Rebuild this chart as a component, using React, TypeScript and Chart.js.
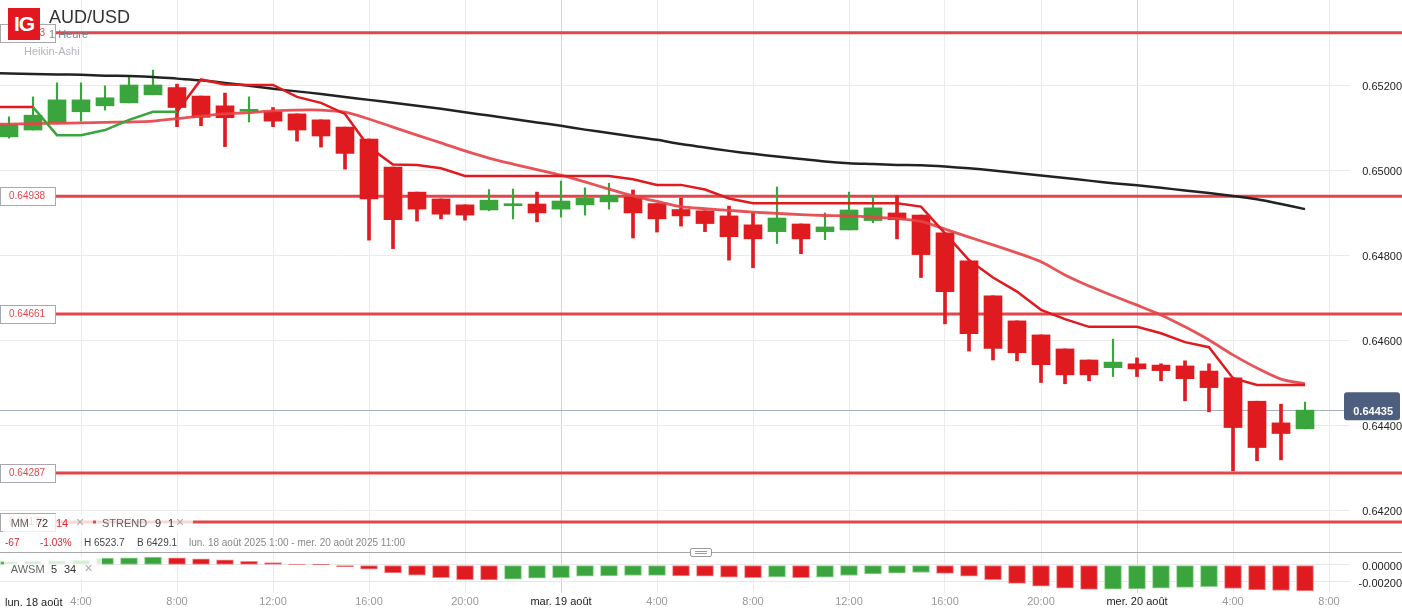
import React, { useEffect, useRef } from "react";
import { Chart, registerables } from "chart.js";

Chart.register(...registerables);

const FONT = "'Liberation Sans', Arial, Helvetica, sans-serif";
Chart.defaults.font.family = FONT;

// hours since lun. 18 août 00:00 (one Heikin-Ashi candle per hour, 1:00 ... 7:00 on 20 août)
const HOURS = [
  1, 2, 3, 4, 5, 6, 7, 8, 9, 10, 11, 12, 13, 14, 15, 16, 17, 18, 19, 20, 21, 22, 23, 24, 25,
  26, 27, 28, 29, 30, 31, 32, 33, 34, 35, 36, 37, 38, 39, 40, 41, 42, 43, 44, 45, 46, 47, 48,
  49, 50, 51, 52, 53, 54, 55,
];
// indicator lines also carry the 0:00 value (just left of the visible window)
const LINE_HOURS = [
  0, 1, 2, 3, 4, 5, 6, 7, 8, 9, 10, 11, 12, 13, 14, 15, 16, 17, 18, 19, 20, 21, 22, 23, 24, 25,
  26, 27, 28, 29, 30, 31, 32, 33, 34, 35, 36, 37, 38, 39, 40, 41, 42, 43, 44, 45, 46, 47, 48,
  49, 50, 51, 52, 53, 54, 55,
];

const OPEN = [
  0.65078, 0.65094, 0.65112, 0.65137, 0.65151, 0.65158, 0.65177, 0.65194, 0.65174, 0.65151,
  0.65138, 0.65137, 0.65132, 0.65118, 0.65101, 0.65073, 0.65007, 0.64948, 0.64932, 0.64918,
  0.64906, 0.64916, 0.6492, 0.64908, 0.64918, 0.64925, 0.64936, 0.64921, 0.64907, 0.64904,
  0.64892, 0.64871, 0.64855, 0.64873, 0.64855, 0.64859, 0.64881, 0.64899, 0.64894, 0.64852,
  0.64786, 0.64704, 0.64645, 0.64612, 0.64579, 0.64553, 0.64535, 0.64544, 0.64541, 0.64539,
  0.64527, 0.64511, 0.64456, 0.64405, 0.64391,
];
const HIGH = [
  0.65125, 0.65172, 0.65205, 0.65205, 0.65198, 0.6522, 0.65235, 0.65202, 0.65174, 0.65181,
  0.65172, 0.65147, 0.65132, 0.65118, 0.65101, 0.65073, 0.65007, 0.64948, 0.64932, 0.64918,
  0.64954, 0.64955, 0.64948, 0.64974, 0.64958, 0.64969, 0.64953, 0.64921, 0.64934, 0.64904,
  0.64915, 0.64899, 0.6496, 0.64873, 0.64899, 0.64948, 0.64939, 0.64939, 0.64894, 0.64852,
  0.64786, 0.64704, 0.64645, 0.64612, 0.64579, 0.64553, 0.64602, 0.64558, 0.64544, 0.64551,
  0.64544, 0.64511, 0.64456, 0.64449, 0.64454,
];
const LOW = [
  0.65075, 0.65094, 0.65112, 0.65115, 0.65141, 0.65158, 0.65177, 0.65102, 0.65104, 0.65055,
  0.65113, 0.65102, 0.65068, 0.65054, 0.65002, 0.64835, 0.64815, 0.6488, 0.64885, 0.64882,
  0.64904, 0.64885, 0.64878, 0.64889, 0.64894, 0.64908, 0.6484, 0.64854, 0.64868, 0.64855,
  0.64788, 0.6477, 0.64827, 0.64803, 0.64836, 0.64859, 0.64876, 0.64838, 0.64747, 0.64638,
  0.64574, 0.64553, 0.64551, 0.645, 0.64497, 0.64504, 0.64514, 0.64514, 0.64504, 0.64457,
  0.64431, 0.64292, 0.64316, 0.64318, 0.64391,
];
const CLOSE = [
  0.65106, 0.65129, 0.65165, 0.65165, 0.6517, 0.652, 0.652, 0.65147, 0.65124, 0.65123,
  0.65142, 0.65115, 0.65094, 0.6508, 0.65039, 0.64932, 0.64883, 0.64908, 0.64896, 0.64894,
  0.64929, 0.6492, 0.64899, 0.64927, 0.64934, 0.6494, 0.64899, 0.64885, 0.64892, 0.64874,
  0.64843, 0.64838, 0.64887, 0.64838, 0.64866, 0.64906, 0.64911, 0.64883, 0.64801, 0.64714,
  0.64615, 0.6458, 0.6457, 0.64542, 0.64518, 0.64518, 0.64548, 0.64532, 0.64528, 0.64509,
  0.64488, 0.64394, 0.64347, 0.6438, 0.64435,
];

// MM 72 (dark) and MM 14 (red)
const MA72 = [
  0.65228,
  0.65227, 0.65226, 0.65225, 0.65224, 0.65222, 0.65221, 0.65219, 0.65215, 0.65211, 0.65205,
  0.65198, 0.65191, 0.65185, 0.65179, 0.65172, 0.65165, 0.65158, 0.65151, 0.65144, 0.65136,
  0.65128, 0.6512, 0.65112, 0.65104, 0.65095, 0.65087, 0.65079, 0.65071, 0.65061, 0.65053,
  0.65045, 0.65038, 0.65032, 0.65026, 0.6502, 0.65016, 0.65014, 0.65012, 0.65011, 0.65008,
  0.65004, 0.64999, 0.64993, 0.64987, 0.64981, 0.64975, 0.64969, 0.64964, 0.64958, 0.64952,
  0.64946, 0.64939, 0.64931, 0.6492, 0.64908,
];
const MA14 = [
  0.65107,
  0.65108, 0.65109, 0.6511, 0.65111, 0.65112, 0.65113, 0.65115, 0.65121, 0.65127, 0.65132,
  0.65135, 0.65139, 0.65141, 0.65141, 0.65136, 0.6512, 0.65101, 0.65082, 0.65064, 0.65045,
  0.65028, 0.65014, 0.65001, 0.64988, 0.64972, 0.64955, 0.64939, 0.64926, 0.64914, 0.64909,
  0.64905, 0.64901, 0.64898, 0.64895, 0.64893, 0.64892, 0.64889, 0.64886, 0.64879, 0.64861,
  0.64842, 0.64824, 0.64805, 0.64784, 0.64753, 0.64727, 0.64704, 0.64682, 0.64659, 0.64631,
  0.646, 0.64565, 0.64534, 0.64508, 0.64497,
];

// STREND 9 1
const STREND = [
  0.65148,
  0.65148, 0.65148, 0.65082, 0.65082, 0.65094, 0.65118, 0.65137, 0.65137, 0.65213, 0.65201,
  0.652, 0.652, 0.65172, 0.65158, 0.65132, 0.65054, 0.65013, 0.65012, 0.65004, 0.64986,
  0.64986, 0.64986, 0.64986, 0.64986, 0.64986, 0.64986, 0.64978, 0.64965, 0.64965, 0.64954,
  0.64933, 0.64922, 0.64922, 0.64922, 0.64922, 0.64922, 0.64922, 0.64922, 0.64914, 0.64851,
  0.64788, 0.64747, 0.64714, 0.64671, 0.64649, 0.64631, 0.64631, 0.64631, 0.64616, 0.64595,
  0.64583, 0.6451, 0.64494, 0.64494, 0.64494,
];
const STREND_UP = [
  0,
  0, 0, 1, 1, 1, 1, 1, 1, 0, 0, 0, 0, 0, 0, 0, 0, 0, 0, 0, 0, 0, 0, 0, 0, 0, 0, 0, 0, 0, 0,
  0, 0, 0, 0, 0, 0, 0, 0, 0, 0, 0, 0, 0, 0, 0, 0, 0, 0, 0, 0, 0, 0, 0, 0, 0,
];

// AWSM 5 34
const AWSM = [
  0.0004, 0.00044, 0.00048, 0.00056, 0.0008, 0.00084, 0.00092,
  0.00084, 0.00072, 0.0006, 0.00044, 0.00028, 0.00012, 0.00004,
  -0.0002, -0.00048, -0.00092, -0.0012, -0.00148, -0.00174, -0.00177,
  -0.00168, -0.00156, -0.00148, -0.00132, -0.00128, -0.00124, -0.00123,
  -0.00128, -0.00132, -0.00144, -0.00148, -0.0014, -0.00148,
  -0.00144, -0.00124, -0.00104, -0.00096, -0.00088,
  -0.001, -0.00132, -0.00172, -0.00216, -0.00248, -0.00272, -0.00288,
  -0.00284, -0.0028, -0.00272, -0.00264, -0.00256,
  -0.00276, -0.00292, -0.003, -0.00304,
];
const AWSM_UP = [
  1, 1, 1, 1, 1, 1, 1, 0, 0, 0, 0, 0, 0, 0, 0, 0, 0, 0, 0, 0, 0, 1, 1, 1, 1, 1, 1, 1,
  0, 0, 0, 0, 1, 0, 1, 1, 1, 1, 1, 0, 0, 0, 0, 0, 0, 0, 1, 1, 1, 1, 1, 0, 0, 0, 0,
];

const LEVELS = [0.65323, 0.64938, 0.64661, 0.64287, 0.64172];
const LAST_PRICE = 0.64435;
const HIDDEN_PRICE = 0.64453;

const PRICE_TICKS = [0.642, 0.644, 0.646, 0.648, 0.65, 0.652];
const AWSM_TICKS = [0, -0.002];
const X_TICKS = [4, 8, 12, 16, 20, 24, 28, 32, 36, 40, 44, 48, 52, 56];
const FIRST_DAY_LABEL = "lun. 18 août";
const DAY_LABELS: Record<number, string> = {
  24: "mar. 19 août",
  48: "mer. 20 août",
};

const X_MIN = 0.625;
const X_MAX = 56.875;
const Y_MIN = 0.641012;
const Y_MAX = 0.654;
const A_MIN = -0.003294;
const A_MAX = 0.001529;

const RED = "#e01b1f";
const GREEN = "#3aa53c";
const LEVEL_RED = "#e2464b";

const xGridColor = (ctx: any) => {
  const v = ctx.tick ? ctx.tick.value : null;
  if (v !== null && v % 24 === 0) return "#d4d4d4";
  return "#ececec";
};

const noPad = (s: any) => {
  s.paddingTop = 0;
  s.paddingBottom = 0;
  s.paddingLeft = 0;
  s.paddingRight = 0;
};

const levelsPlugin = {
  id: "levels",
  beforeDatasetsDraw(chart: any) {
    const { ctx } = chart;
    const y = chart.scales.y;
    const right = chart.chartArea.right;
    ctx.save();
    const py = Math.round(y.getPixelForValue(LAST_PRICE)) + 0.5;
    ctx.strokeStyle = "#a7b0c2";
    ctx.lineWidth = 1;
    ctx.beginPath();
    ctx.moveTo(0, py);
    ctx.lineTo(right - 6, py);
    ctx.stroke();
    ctx.strokeStyle = LEVEL_RED;
    ctx.lineWidth = 3;
    LEVELS.forEach((lv) => {
      const p = y.getPixelForValue(lv);
      ctx.beginPath();
      ctx.moveTo(55, p);
      ctx.lineTo(chart.width, p);
      ctx.stroke();
    });
    ctx.restore();
  },
  afterDraw(chart: any) {
    const { ctx } = chart;
    const y = chart.scales.y;
    const right = chart.chartArea.right;
    ctx.save();
    LEVELS.forEach((lv) => {
      const p = Math.round(y.getPixelForValue(lv));
      ctx.fillStyle = "#ffffff";
      ctx.fillRect(0.5, p - 8.5, 55, 18);
      ctx.strokeStyle = "#a8a8b0";
      ctx.lineWidth = 1;
      ctx.strokeRect(0.5, p - 8.5, 55, 18);
      ctx.fillStyle = "#e0474c";
      ctx.font = `10px ${FONT}`;
      ctx.textAlign = "left";
      ctx.textBaseline = "middle";
      ctx.fillText(lv.toFixed(5), 9, p + 0.5);
    });
    // current price box
    const py = y.getPixelForValue(LAST_PRICE);
    const bx = right - 6;
    const bw = chart.width - 2 - bx;
    const top = py - 18;
    const h = 28;
    ctx.fillStyle = "#4d5e7e";
    ctx.beginPath();
    (ctx as any).roundRect(bx, top, bw, h, 3);
    ctx.fill();
    ctx.font = `bold 11px ${FONT}`;
    ctx.fillStyle = "#ffffff";
    ctx.textAlign = "right";
    ctx.textBaseline = "middle";
    ctx.save();
    ctx.beginPath();
    ctx.rect(bx, top + 6, bw, 3);
    ctx.clip();
    ctx.fillText(HIDDEN_PRICE.toFixed(5), 1393, top + 3);
    ctx.restore();
    ctx.fillText(LAST_PRICE.toFixed(5), 1393, py + 2);
    ctx.restore();
  },
};

function T(props: {
  x: number;
  y: number;
  size: number;
  color: string;
  weight?: number;
  children: React.ReactNode;
}) {
  return (
    <div
      style={{
        position: "absolute",
        left: props.x,
        top: props.y - 10,
        lineHeight: "20px",
        fontSize: props.size,
        color: props.color,
        fontWeight: props.weight || 400,
        whiteSpace: "nowrap",
        fontFamily: FONT,
      }}
    >
      {props.children}
    </div>
  );
}

export default function App() {
  const mainRef = useRef<HTMLCanvasElement>(null);
  const awsmRef = useRef<HTMLCanvasElement>(null);

  useEffect(() => {
    const isUp = (i: number) => CLOSE[i] >= OPEN[i];
    const bodies = HOURS.map((h, i) => ({ x: h, y: [OPEN[i], CLOSE[i]] }));
    const redWicks = HOURS.map((h, i) => ({ x: h, y: [LOW[i], HIGH[i]] })).filter((_, i) => !isUp(i));
    const greenWicks = HOURS.map((h, i) => ({ x: h, y: [LOW[i], HIGH[i]] })).filter((_, i) => isUp(i));

    const main = new Chart(mainRef.current as HTMLCanvasElement, {
      type: "bar",
      data: {
        datasets: [
          {
            type: "line",
            data: LINE_HOURS.map((h, i) => ({ x: h, y: MA72[i] })),
            borderColor: "#222222",
            borderWidth: 2.5,
            pointRadius: 0,
            tension: 0.3,
            order: 1,
          } as any,
          {
            type: "line",
            data: LINE_HOURS.map((h, i) => ({ x: h, y: MA14[i] })),
            borderColor: "rgba(229,68,73,0.92)",
            borderWidth: 2.8,
            pointRadius: 0,
            tension: 0.3,
            order: 2,
          } as any,
          {
            type: "line",
            data: LINE_HOURS.map((h, i) => ({ x: h, y: STREND[i] })),
            borderColor: RED,
            borderWidth: 2.5,
            pointRadius: 0,
            tension: 0,
            order: 0,
            segment: {
              borderColor: (ctx: any) => (STREND_UP[ctx.p1DataIndex] ? GREEN : RED),
            },
          } as any,
          {
            type: "bar",
            data: bodies,
            backgroundColor: (ctx: any) => (isUp(ctx.dataIndex) ? GREEN : RED),
            barThickness: 18,
            grouped: false,
            minBarLength: 2,
            borderWidth: 0,
            borderSkipped: false,
            order: 5,
          } as any,
          {
            type: "bar",
            data: redWicks,
            backgroundColor: RED,
            barThickness: 3,
            grouped: false,
            borderWidth: 0,
            borderSkipped: false,
            order: 6,
          } as any,
          {
            type: "bar",
            data: greenWicks,
            backgroundColor: GREEN,
            barThickness: 1.5,
            grouped: false,
            borderWidth: 0,
            borderSkipped: false,
            order: 6,
          } as any,
        ],
      },
      options: {
        responsive: false,
        animation: false,
        layout: { padding: 0 },
        plugins: { legend: { display: false }, tooltip: { enabled: false } },
        scales: {
          x: {
            type: "linear",
            min: X_MIN,
            max: X_MAX,
            offset: false,
            afterBuildTicks: (s: any) => {
              s.ticks = X_TICKS.map((v) => ({ value: v }));
            },
            afterFit: (s: any) => {
              s.height = 0;
              noPad(s);
            },
            ticks: { display: false },
            grid: { color: xGridColor, drawTicks: false, offset: false },
            border: { display: false },
          },
          y: {
            type: "linear",
            position: "right",
            min: Y_MIN,
            max: Y_MAX,
            afterBuildTicks: (s: any) => {
              s.ticks = PRICE_TICKS.map((v) => ({ value: v }));
            },
            afterFit: (s: any) => {
              s.width = 52;
              noPad(s);
            },
            ticks: {
              callback: (v: any) => Number(v).toFixed(5),
              color: "#222222",
              font: { size: 11 },
              padding: 3,
              crossAlign: "far",
              labelOffset: 2,
            },
            grid: { color: "#ebebeb", drawTicks: false },
            border: { display: false },
          },
        },
      } as any,
      plugins: [levelsPlugin],
    });

    const awsm = new Chart(awsmRef.current as HTMLCanvasElement, {
      type: "bar",
      data: {
        datasets: [
          {
            data: HOURS.map((h, i) => ({ x: h, y: AWSM[i] })),
            backgroundColor: (ctx: any) => (AWSM_UP[ctx.dataIndex] ? GREEN : RED),
            borderColor: (ctx: any) =>
              AWSM_UP[ctx.dataIndex] ? "rgba(150,208,150,1)" : "rgba(240,140,142,1)",
            borderWidth: 1,
            borderSkipped: false,
            barThickness: 17,
            grouped: false,
          } as any,
        ],
      },
      options: {
        responsive: false,
        animation: false,
        layout: { padding: 0 },
        plugins: { legend: { display: false }, tooltip: { enabled: false } },
        scales: {
          x: {
            type: "linear",
            min: X_MIN,
            max: X_MAX,
            offset: false,
            afterBuildTicks: (s: any) => {
              s.ticks = X_TICKS.map((v) => ({ value: v }));
            },
            afterFit: (s: any) => {
              s.height = 18;
              noPad(s);
            },
            ticks: {
              autoSkip: false,
              maxRotation: 0,
              padding: 2,
              font: { size: 11 },
              color: (ctx: any) => (DAY_LABELS[ctx.tick.value] ? "#222222" : "#999999"),
              callback: (v: any) => {
                const n = Number(v);
                return DAY_LABELS[n] || `${n % 24}:00`;
              },
            },
            grid: { color: xGridColor, drawTicks: false, offset: false },
            border: { display: false },
          },
          y: {
            type: "linear",
            position: "right",
            min: A_MIN,
            max: A_MAX,
            afterBuildTicks: (s: any) => {
              s.ticks = AWSM_TICKS.map((v) => ({ value: v }));
            },
            afterFit: (s: any) => {
              s.width = 52;
              noPad(s);
            },
            ticks: {
              callback: (v: any) => Number(v).toFixed(5),
              color: "#222222",
              font: { size: 11 },
              padding: 0,
              crossAlign: "far",
              labelOffset: 1.5,
            },
            grid: { color: "#e8e8e8", drawTicks: false },
            border: { display: false },
          },
        },
      } as any,
    });

    return () => {
      main.destroy();
      awsm.destroy();
    };
  }, []);

  const red = "#e0262b";
  return (
    <div
      style={{
        position: "fixed",
        left: 0,
        top: 0,
        width: 1402,
        height: 611,
        background: "#ffffff",
        overflow: "hidden",
        fontFamily: FONT,
      }}
    >
      <canvas
        ref={mainRef}
        width={1402}
        height={552}
        style={{ position: "absolute", left: 0, top: 0, width: 1402, height: 552 }}
      />
      <canvas
        ref={awsmRef}
        width={1402}
        height={59}
        style={{ position: "absolute", left: 0, top: 552, width: 1402, height: 59 }}
      />

      {/* header */}
      <div
        style={{
          position: "absolute",
          left: 8,
          top: 8,
          width: 32,
          height: 32,
          background: "#e2171f",
          color: "#ffffff",
          fontWeight: 700,
          fontSize: 21,
          lineHeight: "32px",
          textAlign: "center",
          letterSpacing: -1,
          fontFamily: FONT,
        }}
      >
        IG
      </div>
      <T x={49} y={17} size={18} color="#333333">AUD/USD</T>
      <T x={49} y={34} size={11} color="#7c8290">1 Heure</T>
      <T x={24} y={51} size={11} color="#b3b3bb">Heikin-Ashi</T>

      {/* indicator legend */}
      <div style={{ position: "absolute", left: 3, top: 514, width: 90, height: 18, background: "rgba(255,255,255,0.78)" }} />
      <div style={{ position: "absolute", left: 96, top: 514, width: 97, height: 18, background: "rgba(255,255,255,0.78)" }} />
      <T x={10.7} y={523} size={11} color="#666666">MM</T>
      <T x={36} y={523} size={11} color="#333333">72</T>
      <T x={56} y={523} size={11} color={red}>14</T>
      <T x={76} y={522} size={14} color="#aaaaaa">×</T>
      <T x={102} y={523} size={11} color="#666666">STREND</T>
      <T x={155} y={523} size={11} color="#333333">9</T>
      <T x={168} y={523} size={11} color="#333333">1</T>
      <T x={176} y={522} size={14} color="#aaaaaa">×</T>

      {/* stats row */}
      <T x={5} y={543} size={10} color={red}>-67</T>
      <T x={40} y={543} size={10} color={red}>-1.03%</T>
      <T x={84} y={543} size={10} color="#444444">H 6523.7</T>
      <T x={137} y={543} size={10} color="#444444">B 6429.1</T>
      <T x={189} y={543} size={10} color="#888888">
        lun. 18 août 2025 1:00 - mer. 20 août 2025 11:00
      </T>

      {/* separator + handle */}
      <div style={{ position: "absolute", left: 0, top: 552, width: 1402, height: 1, background: "#a8a8a8" }} />
      <div
        style={{
          position: "absolute",
          left: 690,
          top: 548,
          width: 20,
          height: 7,
          border: "1px solid #9a9a9a",
          borderRadius: 2,
          background: "#ffffff",
        }}
      >
        <div style={{ position: "absolute", left: 4, top: 2, width: 12, height: 1, background: "#9a9a9a" }} />
        <div style={{ position: "absolute", left: 4, top: 4, width: 12, height: 1, background: "#9a9a9a" }} />
      </div>

      {/* AWSM legend */}
      <div style={{ position: "absolute", left: 3.5, top: 557, width: 98.5, height: 22, background: "rgba(255,255,255,0.8)" }} />
      <T x={10.8} y={569} size={11} color="#666666">AWSM</T>
      <T x={51} y={569} size={11} color="#333333">5</T>
      <T x={64} y={569} size={11} color="#333333">34</T>
      <T x={84.6} y={568} size={14} color="#aaaaaa">×</T>

      {/* first day label on the time axis */}
      <T x={5} y={602} size={11} color="#222222">{FIRST_DAY_LABEL}</T>
    </div>
  );
}
